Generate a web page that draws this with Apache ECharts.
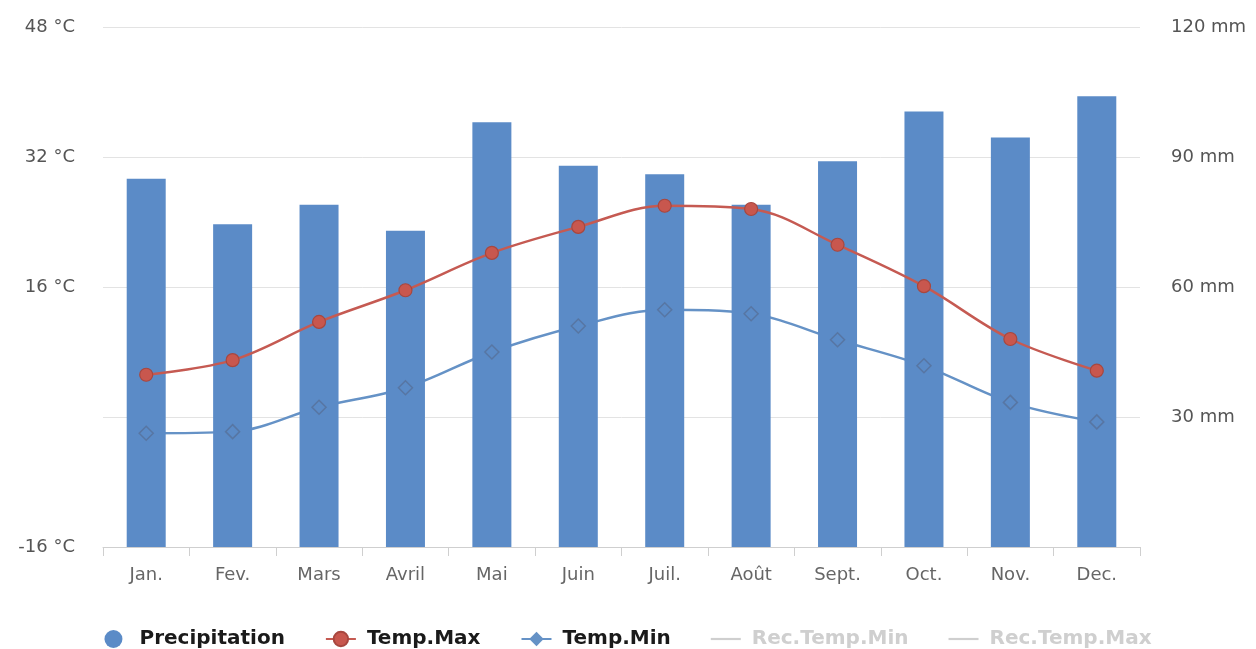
<!DOCTYPE html>
<html>
<head>
<meta charset="utf-8">
<script src="https://cdn.jsdelivr.net/npm/echarts@6/dist/echarts.min.js"></script>
<style>
  html, body { margin: 0; padding: 0; background: #fff; }
  #chart { width: 1256px; height: 649px; }
</style>
</head>
<body>
<div id="chart"></div>
<script>
// Monthly climate data
const months = ['Jan.', 'Fev.', 'Mars', 'Avril', 'Mai', 'Juin', 'Juil.', 'Août', 'Sept.', 'Oct.', 'Nov.', 'Dec.'];
const precipitation = [85, 74.5, 79, 73, 98, 88, 86, 79, 89, 100.5, 94.5, 104];
const tempMax = [5.2, 7.0, 11.7, 15.6, 20.2, 23.4, 26.0, 25.6, 21.2, 16.1, 9.6, 5.7];
const tempMin = [-2.0, -1.8, 1.2, 3.6, 8.0, 11.2, 13.2, 12.7, 9.5, 6.3, 1.8, -0.6];

const barColor = '#5b8bc7';
const maxColor = '#c55a52';
const minColor = '#6592c6';
const lineIcon = 'path://M0,0L30,0L30,2.2L0,2.2Z';

const chart = echarts.init(document.getElementById('chart'));
chart.setOption({
  animation: false,
  backgroundColor: '#fff',
  grid: { left: 103, right: 116, top: 27, bottom: 102 },
  legend: {
    top: 624,
    left: 'center',
    itemGap: 40,
    itemWidth: 30,
    itemHeight: 18,
    inactiveColor: '#cfcfcf',
    textStyle: {
      fontFamily: 'DejaVu Sans', fontWeight: 'bold', fontSize: 20, color: '#1a1a1a',
      padding: [0, 0, 0, 6]
    },
    data: [
      { name: 'Precipitation', icon: 'circle', itemStyle: { color: barColor } },
      'Temp.Max',
      'Temp.Min',
      { name: 'Rec.Temp.Min', icon: lineIcon },
      { name: 'Rec.Temp.Max', icon: lineIcon }
    ],
    selected: { 'Rec.Temp.Min': false, 'Rec.Temp.Max': false }
  },
  xAxis: {
    type: 'category',
    data: months,
    axisLine: { show: true, onZero: false, lineStyle: { color: '#cfcfcf' } },
    axisTick: { show: true, length: 9, lineStyle: { color: '#cfcfcf' } },
    axisLabel: { color: '#666', fontFamily: 'DejaVu Sans', fontSize: 18, margin: 19 }
  },
  yAxis: [
    {
      type: 'value', min: -16, max: 48, interval: 16, position: 'left',
      axisLine: { show: false }, axisTick: { show: false },
      splitLine: { lineStyle: { color: '#e3e3e3' } },
      axisLabel: {
        color: '#555', fontFamily: 'DejaVu Sans', fontSize: 18, margin: 28,
        formatter: v => (v === 0 ? '' : v + ' °C')
      }
    },
    {
      type: 'value', min: 0, max: 120, interval: 30, position: 'right',
      axisLine: { show: false }, axisTick: { show: false },
      splitLine: { show: false },
      axisLabel: {
        color: '#555', fontFamily: 'DejaVu Sans', fontSize: 18, margin: 31,
        formatter: v => (v === 0 ? '' : v + ' mm')
      }
    }
  ],
  series: [
    {
      name: 'Temp.Min', type: 'line', yAxisIndex: 0, data: tempMin,
      smooth: 0.35, z: 1, symbol: 'diamond', symbolSize: 1, showSymbol: false,
      lineStyle: { color: minColor, width: 2.5 },
      itemStyle: { color: minColor }
    },
    {
      name: 'Precipitation', type: 'bar', yAxisIndex: 1, data: precipitation,
      barWidth: 39, z: 2, itemStyle: { color: barColor }
    },
    {
      name: 'Temp.Min', type: 'scatter', yAxisIndex: 0, data: tempMin,
      symbol: 'diamond', symbolSize: 14, z: 3,
      itemStyle: { color: 'rgba(0,0,0,0)', borderColor: '#56709a', borderWidth: 1.5 }
    },
    {
      name: 'Temp.Max', type: 'line', yAxisIndex: 0, data: tempMax,
      smooth: 0.35, z: 4, symbol: 'circle', symbolSize: 13,
      lineStyle: { color: maxColor, width: 2.5 },
      itemStyle: { color: '#c8574e', borderColor: '#a8473f', borderWidth: 1.2 }
    },
    { name: 'Rec.Temp.Min', type: 'line', yAxisIndex: 0, data: [], symbol: 'none', lineStyle: { color: '#999' } },
    { name: 'Rec.Temp.Max', type: 'line', yAxisIndex: 0, data: [], symbol: 'none', lineStyle: { color: '#999' } }
  ]
});
</script>
</body>
</html>
